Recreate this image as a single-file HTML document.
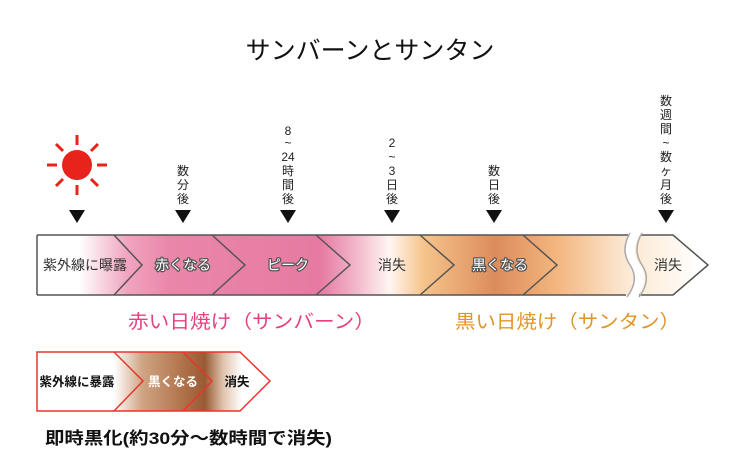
<!DOCTYPE html>
<html><head><meta charset="utf-8">
<style>
html,body{margin:0;padding:0;background:#fff;}
svg{display:block;font-family:"Liberation Sans","Noto Sans CJK JP",sans-serif;}
</style></head>
<body>
<svg width="739" height="465" viewBox="0 0 739 465" xmlns="http://www.w3.org/2000/svg">
<defs>
<linearGradient id="g1" x1="37" x2="640" y1="0" y2="0" gradientUnits="userSpaceOnUse">
<stop offset="0" stop-color="#ffffff"/>
<stop offset="0.07" stop-color="#ffffff"/>
<stop offset="0.15" stop-color="#f0a4bf"/>
<stop offset="0.22" stop-color="#ea86a9"/>
<stop offset="0.47" stop-color="#e67aa2"/>
<stop offset="0.53" stop-color="#f2b8cb"/>
<stop offset="0.585" stop-color="#fff6f2"/>
<stop offset="0.64" stop-color="#f6c48c"/>
<stop offset="0.76" stop-color="#dc8c5c"/>
<stop offset="0.86" stop-color="#f3b57e"/>
<stop offset="0.97" stop-color="#fbe6cf"/>
<stop offset="1" stop-color="#fdf0e2"/>
</linearGradient>
<linearGradient id="g2" x1="640" x2="700" y1="0" y2="0" gradientUnits="userSpaceOnUse">
<stop offset="0" stop-color="#fcecd8"/>
<stop offset="1" stop-color="#ffffff"/>
</linearGradient>
<linearGradient id="g3" x1="37" x2="270" y1="0" y2="0" gradientUnits="userSpaceOnUse">
<stop offset="0" stop-color="#ffffff"/>
<stop offset="0.33" stop-color="#ffffff"/>
<stop offset="0.45" stop-color="#d0a585"/>
<stop offset="0.6" stop-color="#b57a52"/>
<stop offset="0.72" stop-color="#985a32"/>
<stop offset="0.8" stop-color="#e0c4ae"/>
<stop offset="0.88" stop-color="#ffffff"/>
<stop offset="1" stop-color="#ffffff"/>
</linearGradient>
</defs>

<text x="370" y="59" font-size="25" text-anchor="middle" fill="#111">サンバーンとサンタン</text>

<g stroke="#e8231c" stroke-width="3">
<line x1="77" y1="135" x2="77" y2="145"/><line x1="77" y1="185" x2="77" y2="195"/>
<line x1="47" y1="165" x2="57" y2="165"/><line x1="97" y1="165" x2="107" y2="165"/>
<line x1="56" y1="144" x2="63" y2="151"/><line x1="91" y1="179" x2="98" y2="186"/>
<line x1="98" y1="144" x2="91" y2="151"/><line x1="63" y1="179" x2="56" y2="186"/>
</g>
<circle cx="77" cy="165" r="15" fill="#e8231c"/>

<g fill="#111">
<polygon points="69,210 85,210 77,223"/>
<polygon points="175,210 191,210 183,223"/>
<polygon points="280,210 296,210 288,223"/>
<polygon points="384,210 400,210 392,223"/>
<polygon points="486,210 502,210 494,223"/>
<polygon points="658,210 674,210 666,223"/>
</g>
<g font-size="12" text-anchor="middle" fill="#222">
<text x="183" y="175">数</text><text x="183" y="189">分</text><text x="183" y="203">後</text>
<text x="288" y="135">8</text><text x="288" y="147">~</text><text x="288" y="161">24</text><text x="288" y="175">時</text><text x="288" y="189">間</text><text x="288" y="203">後</text>
<text x="392" y="147">2</text><text x="392" y="161">~</text><text x="392" y="175">3</text><text x="392" y="189">日</text><text x="392" y="203">後</text>
<text x="494" y="175">数</text><text x="494" y="189">日</text><text x="494" y="203">後</text>
<text x="666" y="105">数</text><text x="666" y="119">週</text><text x="666" y="133">間</text><text x="666" y="147">~</text><text x="666" y="161">数</text><text x="666" y="175">ヶ</text><text x="666" y="189">月</text><text x="666" y="203">後</text>
</g>

<path d="M37,235 L630,235 Q620,250 630,265 Q640,280 628,295 L37,295 Z" fill="url(#g1)"/>
<path d="M640,235 L673,235 L708,265 L673,295 L638,295 Q650,280 640,265 Q630,250 640,235 Z" fill="url(#g2)"/>
<g stroke="#555" stroke-width="1.5" fill="none">
<path d="M37,235 L628,235 M37,295 L626,295 M37,235 L37,295"/>
<path d="M641,235 L673,235 L708,265 L673,295 L639,295"/>
<path d="M630,233 Q620,250 630,265 Q640,280 627,297" stroke="#aaa"/>
<path d="M642,233 Q632,250 642,265 Q652,280 639,297" stroke="#aaa"/>
<path d="M114,235 L142,265 L114,295"/>
<path d="M212,235 L245,265 L212,295"/>
<path d="M316,235 L350,265 L316,295"/>
<path d="M420,235 L454,265 L420,295"/>
<path d="M523,235 L557,265 L523,295"/>
</g>
<g font-size="14" text-anchor="middle">
<text x="85" y="270" fill="#333">紫外線に曝露</text>
<text x="392" y="270" fill="#333">消失</text>
<text x="668" y="270" fill="#333">消失</text>
</g>
<g font-size="14" text-anchor="middle" fill="#fff" stroke="#555" stroke-width="2.5" paint-order="stroke" stroke-linejoin="round">
<text x="183" y="270">赤くなる</text>
<text x="288" y="270">ピーク</text>
<text x="500" y="270">黒くなる</text>
</g>

<text x="128" y="328" font-size="19" fill="#e4427f" textLength="247" lengthAdjust="spacingAndGlyphs">赤い日焼け（サンバーン）</text>
<text x="455" y="328" font-size="19" fill="#e0952a" textLength="225" lengthAdjust="spacingAndGlyphs">黒い日焼け（サンタン）</text>

<path d="M37,352 L240,352 L270,381 L240,411 L37,411 Z" fill="url(#g3)"/>
<g stroke="#e8352c" stroke-width="1.5" fill="none">
<path d="M37,352 L240,352 L270,381 L240,411 L37,411 Z"/>
<path d="M114,352 L143,381 L114,411"/>
<path d="M183,352 L212,381 L183,411"/>
</g>
<g font-size="12.5" font-weight="bold" text-anchor="middle">
<text x="77" y="386" fill="#111">紫外線に暴露</text>
<text x="173" y="386" fill="#fff">黒くなる</text>
<text x="237" y="386" fill="#111">消失</text>
</g>
<text x="45" y="444" font-size="17" font-weight="bold" fill="#111" textLength="287" lengthAdjust="spacingAndGlyphs">即時黒化(約30分～数時間で消失)</text>
</svg>
</body></html>
